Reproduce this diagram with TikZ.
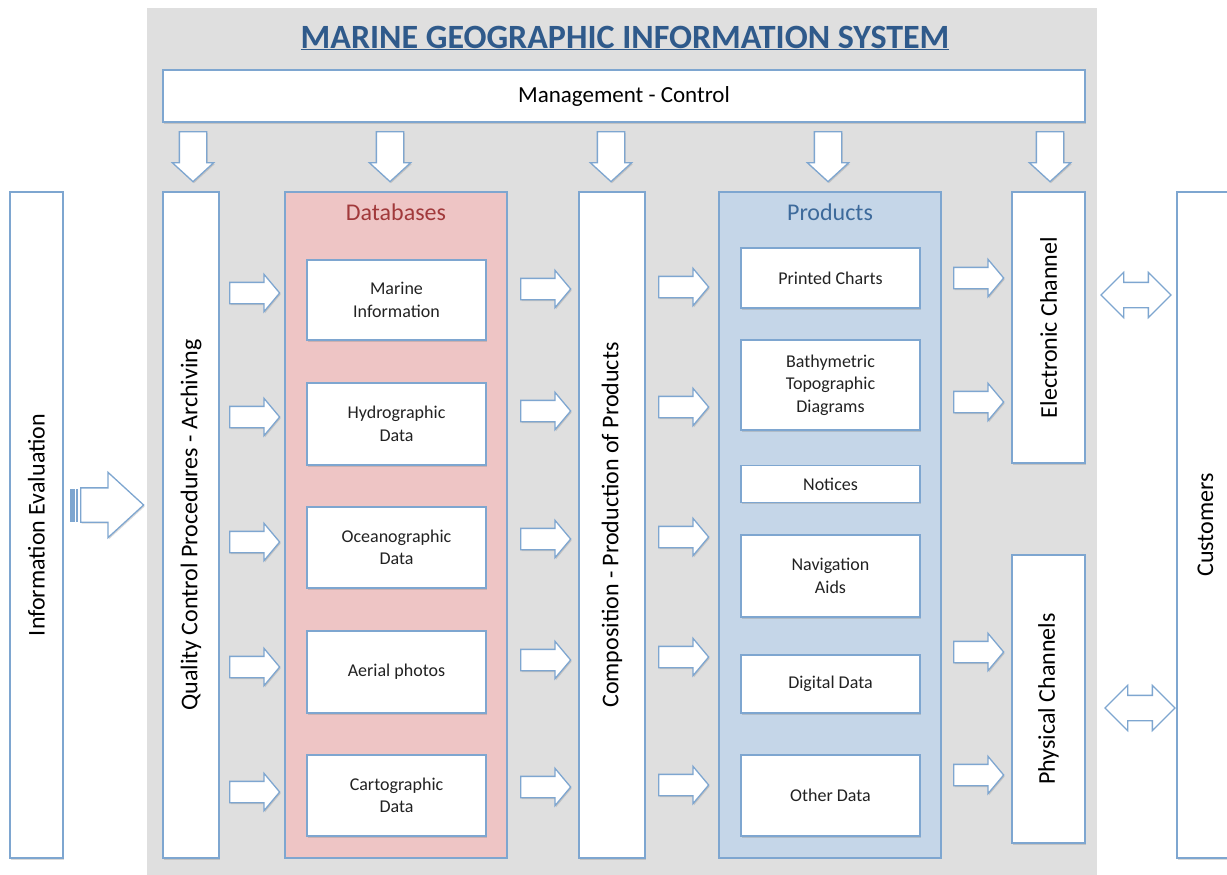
\documentclass[tikz,border=0pt]{standalone}
\usepackage{fontspec}
\setmainfont{Carlito}
\usetikzlibrary{shapes.arrows,shadows,positioning}

\definecolor{edgeblue}{HTML}{7EA6D0}
\definecolor{gisgray}{HTML}{DFDFDF}
\definecolor{dbpink}{HTML}{EEC5C5}
\definecolor{prodblue}{HTML}{C5D6E8}
\definecolor{titleblue}{HTML}{2F5A8B}
\definecolor{dbred}{HTML}{A1393B}
\definecolor{prodtext}{HTML}{3D6A9B}
\definecolor{inktext}{HTML}{222222}

\begin{document}
\begin{tikzpicture}[x=1pt,y=-1pt,
	softshadow/.style={
		drop shadow={shadow xshift=1pt,shadow yshift=-1.5pt,opacity=0.3}
	},
	box/.style={
		draw=edgeblue,line width=1.3pt,fill=white,inner sep=0pt,softshadow
	},
	panel/.style={
		draw=edgeblue,line width=1.3pt,inner sep=0pt,minimum width=222pt,minimum height=666pt
	},
	item/.style={
		box,minimum width=179pt,align=center,text=inktext,
		font=\fontsize{18}{22.5}\selectfont
	},
	vtext/.style={
		rotate=90,text=black,font=\fontsize{24}{28}\selectfont
	},
	rarrow/.style={
		single arrow,draw=edgeblue,line width=1.3pt,fill=white,inner sep=10pt,
		minimum height=50pt,minimum width=36pt,anchor=tail,
		single arrow head extend=8pt,single arrow tip angle=100,softshadow
	},
	darrow/.style={
		rarrow,inner sep=13pt,minimum width=40pt,single arrow head extend=7pt,
		single arrow tip angle=95,shape border rotate=270
	},
	twoway/.style={
		double arrow,draw=edgeblue,line width=1.3pt,fill=white,inner sep=12pt,
		minimum height=70pt,minimum width=44pt,
		double arrow head extend=10pt,double arrow tip angle=90
	}
	]
	\useasboundingbox (0,0) rectangle (1227,875);
	
	% system frame
	\node[fill=gisgray,minimum width=950pt,minimum height=875pt,inner sep=0pt] (gis) at (622,445.5) {};
	\node[text=titleblue,font=\fontsize{34}{40}\bfseries] (title) at (625,38) {\underline{MARINE GEOGRAPHIC INFORMATION SYSTEM}};
	\node[box,minimum width=922pt,minimum height=52pt,font=\fontsize{23}{28}\selectfont] (mgmt) at (624,96) {Management - Control};
	
	% columns
	\node[box,minimum width=53pt,minimum height=666pt,
		label={[vtext]center:Information Evaluation}] (info) at (36.5,525) {};
	\node[box,minimum width=56pt,minimum height=666pt,
		label={[vtext]center:Quality Control Procedures - Archiving}] (qc) at (191,525) {};
	\node[panel,fill=dbpink] (dbpanel) at (396,525) {};
	\node[box,minimum width=66pt,minimum height=666pt,
		label={[vtext]center:Composition - Production of Products}] (comp) at (612,525) {};
	\node[panel,fill=prodblue] (prodpanel) at (830,525) {};
	\node[box,minimum width=73pt,minimum height=271pt,
		label={[vtext]center:Electronic Channel}] (elec) at (1048.5,327.5) {};
	\node[box,minimum width=73pt,minimum height=288pt,
		label={[vtext]center:Physical Channels}] (phys) at (1048.5,699) {};
	\node[box,minimum width=57pt,minimum height=666pt,
		label={[vtext]center:Customers}] (cust) at (1205.5,525) {};
	
	% databases
	\node[text=dbred,font=\fontsize{24}{28}\selectfont,below=9pt of dbpanel.north] (dbhead) {Databases};
	\node[item,minimum height=80pt] (marine) at (396.5,300) {Marine\\Information};
	\node[item,minimum height=82pt] (hydro) at (396.5,424) {Hydrographic\\Data};
	\node[item,minimum height=81pt] (ocean) at (396.5,547.5) {Oceanographic\\Data};
	\node[item,minimum height=82pt] (aerial) at (396.5,672) {Aerial photos};
	\node[item,minimum height=81pt] (carto) at (396.5,795.5) {Cartographic\\Data};
	
	% products
	\node[text=prodtext,font=\fontsize{24}{28}\selectfont,below=9pt of prodpanel.north] (prodhead) {Products};
	\node[item,minimum height=60pt] (charts) at (830.5,278) {Printed Charts};
	\node[item,minimum height=90pt] (bathy) at (830.5,385) {Bathymetric\\Topographic\\Diagrams};
	\node[item,minimum height=37pt] (notices) at (830.5,484) {Notices};
	\node[item,minimum height=82pt] (navaids) at (830.5,576) {Navigation\\Aids};
	\node[item,minimum height=58pt] (digital) at (830.5,684) {Digital Data};
	\node[item,minimum height=81pt] (other) at (830.5,795.5) {Other Data};
	
	% management arrows
	\node[darrow] (dq) at (193,131) {};
	\node[darrow] (dd) at (390,131) {};
	\node[darrow] (dc) at (611,131) {};
	\node[darrow] (dp) at (828,131) {};
	\node[darrow] (de) at (1050,131) {};
	
	% evaluation to quality control
	\fill[edgeblue] (70,489) rectangle (74.5,522);
	\fill[edgeblue] (76,489) rectangle (77.5,522);
	\node[rarrow,inner sep=16.5pt,minimum height=63pt,minimum width=64pt,single arrow head extend=15.5pt,
		single arrow tip angle=85] (evalarrow) at (80,505) {};
	
	% quality control to databases
	\node[rarrow] (qa1) at (229,293) {};
	\node[rarrow] (qa2) at (229,417) {};
	\node[rarrow] (qa3) at (229,542) {};
	\node[rarrow] (qa4) at (229,667) {};
	\node[rarrow] (qa5) at (229,792) {};
	
	% databases to composition
	\node[rarrow] (da1) at (520,289) {};
	\node[rarrow] (da2) at (520,411) {};
	\node[rarrow] (da3) at (520,539) {};
	\node[rarrow] (da4) at (520,660) {};
	\node[rarrow] (da5) at (520,787) {};
	
	% composition to products
	\node[rarrow] (ca1) at (658,287) {};
	\node[rarrow] (ca2) at (658,407) {};
	\node[rarrow] (ca3) at (658,537) {};
	\node[rarrow] (ca4) at (658,657) {};
	\node[rarrow] (ca5) at (658,785) {};
	
	% products to channels
	\node[rarrow] (pa1) at (953,278) {};
	\node[rarrow] (pa2) at (953,402) {};
	\node[rarrow] (pa3) at (953,652) {};
	\node[rarrow] (pa4) at (953,775) {};
	
	% channels and customers
	\node[twoway] (ecust) at (1136,295) {};
	\node[twoway] (pcust) at (1140,708) {};
\end{tikzpicture}
\end{document}
